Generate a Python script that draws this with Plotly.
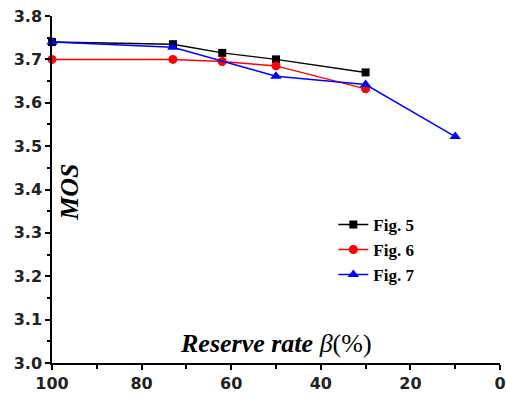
import plotly.graph_objects as go

x5 = [100, 73, 62, 50, 30]
y5 = [3.74, 3.735, 3.715, 3.70, 3.67]
x6 = [100, 73, 62, 50, 30]
y6 = [3.70, 3.70, 3.695, 3.685, 3.632]
x7 = [100, 73, 50, 30, 10]
y7 = [3.74, 3.728, 3.661, 3.642, 3.522]
names = ["Fig. 5", "Fig. 6", "Fig. 7"]
xticks = [100, 80, 60, 40, 20, 0]
yticks = [3.0, 3.1, 3.2, 3.3, 3.4, 3.5, 3.6, 3.7, 3.8]

fig = go.Figure()
fig.add_trace(go.Scatter(x=x5, y=y5, name=names[0], mode="lines+markers",
                         line=dict(color="black", width=1.5),
                         marker=dict(symbol="square", size=8, color="black"),
                         cliponaxis=False))
fig.add_trace(go.Scatter(x=x6, y=y6, name=names[1], mode="lines+markers",
                         line=dict(color="red", width=1.5),
                         marker=dict(symbol="circle", size=9, color="red"),
                         cliponaxis=False))
fig.add_trace(go.Scatter(x=x7, y=y7, name=names[2], mode="lines+markers",
                         line=dict(color="blue", width=1.5),
                         marker=dict(symbol="triangle-up", size=10, color="blue"),
                         cliponaxis=False))

tickfont = dict(family="DejaVu Sans", size=16, color="#222", weight="bold")
fig.update_layout(
    width=506, height=395,
    margin=dict(l=52, r=6, t=16, b=32, autoexpand=False),
    paper_bgcolor="white", plot_bgcolor="white",
    showlegend=True,
    legend=dict(x=0.628, y=0.45, xanchor="left", yanchor="top",
                font=dict(family="Liberation Serif, Times New Roman", size=17, color="black", weight="bold"),
                bgcolor="rgba(0,0,0,0)", tracegroupgap=0, itemwidth=30),
    xaxis=dict(range=[100, 0], tickvals=xticks, showgrid=False, zeroline=False, automargin=False,
               showline=True, linecolor="black", linewidth=1.5, ticklabeloverflow="allow",
               ticks="outside", ticklen=5, tickwidth=1.5, tickcolor="black",
               minor=dict(dtick=10, ticks="outside", ticklen=4, tickwidth=1.5, tickcolor="black"),
               tickfont=tickfont),
    yaxis=dict(range=[3.0, 3.8], tickvals=yticks, tickformat=".1f", showgrid=False, zeroline=False,
               automargin=False, ticklabeloverflow="allow",
               showline=True, linecolor="black", linewidth=1.5,
               ticks="outside", ticklen=5, tickwidth=1.5, tickcolor="black",
               minor=dict(dtick=0.05, ticks="outside", ticklen=3, tickwidth=1.5, tickcolor="black"),
               tickfont=tickfont),
    annotations=[
        dict(text="<b><i>Reserve rate </i></b><i>β</i>(%)", xref="paper", yref="paper",
             x=0.5, y=0.055, xanchor="center", yanchor="middle", showarrow=False,
             font=dict(family="Liberation Serif, Times New Roman", size=26, color="black")),
        dict(text="<b><i>MOS</i></b>", xref="paper", yref="paper",
             x=0.04, y=0.493, xanchor="center", yanchor="middle", showarrow=False, textangle=-90,
             font=dict(family="Liberation Serif, Times New Roman", size=26, color="black")),
    ],
)
fig.write_html("out.html", config={"displayModeBar": False},
               post_script="document.body.style.margin='0';")
